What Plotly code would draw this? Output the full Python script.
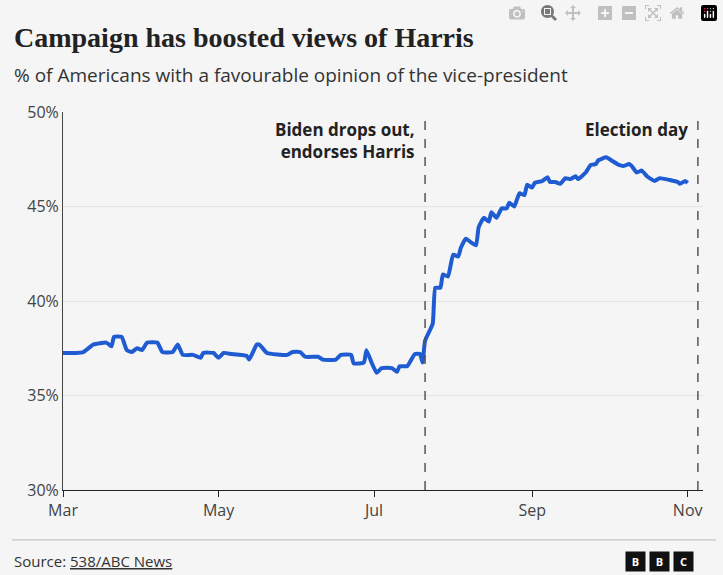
import pandas as pd
import plotly.graph_objects as go

# days since 1 March 2024, and % favourable
days = [0, 5, 8, 12, 17, 19, 20, 23, 25, 27, 29, 31, 33, 37, 39, 43, 45, 47, 51, 54,
        55, 59, 61, 63, 66, 72, 73, 76, 77, 80, 88, 90, 93, 95, 100, 102, 107, 109, 113, 114,
        118, 119, 121, 123, 125, 129, 131, 132, 135, 138, 140, 141, 142,
        145, 146, 148, 149, 151, 153, 155, 156, 158, 160, 162, 163, 165, 167, 168, 170, 172,
        174, 175, 177, 179, 181, 182, 184, 185, 188, 190, 191, 193, 195, 197, 199, 201, 202,
        205, 207, 209, 210, 213, 215, 218, 220, 222, 223, 225, 227, 229, 232, 234, 238, 241,
        242, 244, 245]
favourable = [37.25, 37.25, 37.3, 37.7, 37.8, 37.6, 38.1, 38.1, 37.4, 37.3, 37.5, 37.4, 37.8, 37.8,
              37.3, 37.3, 37.7, 37.15, 37.15, 37.0, 37.25, 37.25, 37.0, 37.25, 37.2, 37.1, 36.9,
              37.7, 37.7, 37.25, 37.15, 37.3, 37.3, 37.05, 37.05, 36.9, 36.9, 37.15, 37.15, 36.7,
              36.75, 37.4, 36.75, 36.2, 36.45, 36.45, 36.25, 36.55, 36.55, 37.2, 37.2, 36.75, 37.9,
              38.8, 40.7, 40.7, 41.4, 41.3, 42.45, 42.35, 42.8, 43.3, 43.1, 42.95, 43.9, 44.4, 44.2,
              44.7, 44.4, 44.9, 44.9, 45.2, 45.0, 45.7, 45.6, 46.15, 46.0, 46.25, 46.35, 46.55, 46.3,
              46.3, 46.2, 46.5, 46.45, 46.6, 46.45, 46.8, 47.2, 47.25, 47.45, 47.6, 47.45, 47.2,
              47.15, 47.25, 47.15, 46.8, 46.9, 46.6, 46.35, 46.5, 46.4, 46.3, 46.2, 46.35, 46.25]
dates = [pd.Timestamp("2024-03-01") + pd.Timedelta(days=d) for d in days]

events = ["2024-07-21", "2024-11-05"]
event_labels = ["Biden drops out,<br>endorses Harris", "Election day"]

fig = go.Figure()
fig.add_trace(go.Scatter(x=dates, y=favourable, mode="lines",
                         line=dict(color="#1f5bd1", width=4, shape="spline", smoothing=0.4),
                         hoverinfo="skip"))

for d, lab in zip(events, event_labels):
    fig.add_vline(x=d, line=dict(color="#555", width=1.5, dash="dash"))
    fig.add_annotation(x=d, y=50, yref="y", text="<b>" + lab + "</b>", showarrow=False,
                       xanchor="right", yanchor="top", align="right", xshift=-8, yshift=-4,
                       font=dict(size=17, color="#222", family="Open Sans"))

fig.update_layout(
    width=723, height=575,
    paper_bgcolor="#f5f5f5", plot_bgcolor="#f5f5f5",
    margin=dict(l=63, r=20, t=112, b=85),
    showlegend=False,
    font=dict(family="Open Sans", color="#222"),
)
fig.add_annotation(xref="paper", yref="paper", x=-0.08, y=1.196, xanchor="left", yanchor="middle",
                   showarrow=False, text="<b>Campaign has boosted views of Harris</b>",
                   font=dict(size=28, family="Liberation Serif", color="#222"))
fig.add_annotation(xref="paper", yref="paper", x=-0.08, y=1.098, xanchor="left", yanchor="middle",
                   showarrow=False, text="% of Americans with a favourable opinion of the vice-president",
                   font=dict(size=19, color="#333"))

fig.update_xaxes(range=["2024-03-01", "2024-11-07"], tickvals=["2024-03-01", "2024-05-01", "2024-07-01", "2024-09-01", "2024-11-01"],
                 ticktext=["Mar", "May", "Jul", "Sep", "Nov"], showgrid=False,
                 showline=True, linecolor="#222", linewidth=1, ticks="outside", ticklen=6,
                 tickcolor="#222", tickfont=dict(size=16, color="#444"))
fig.update_yaxes(range=[30, 50], dtick=5, ticksuffix="%", gridcolor="#e4e4e4",
                 showline=True, linecolor="#444", zeroline=False,
                 tickfont=dict(size=16, color="#444"))

fig.add_shape(type="line", xref="paper", yref="paper", x0=-0.08, x1=1.02, y0=-0.132, y1=-0.132,
              line=dict(color="#bbb", width=1))
fig.add_annotation(xref="paper", yref="paper", x=-0.08, y=-0.188, xanchor="left", yanchor="middle",
                   showarrow=False, text="Source: <u>538/ABC News</u>",
                   font=dict(size=15, color="#333"))
for i, ch in enumerate("BBC"):
    fig.add_annotation(xref="paper", yref="paper", x=0.911 + i * 0.0375, y=-0.188, yanchor="middle",
                       showarrow=False, text="<b>" + ch + "</b>", bgcolor="#111",
                       width=17, height=17, font=dict(size=11, color="white"))

fig.write_html("out.html", post_script="document.body.style.margin='0';")
